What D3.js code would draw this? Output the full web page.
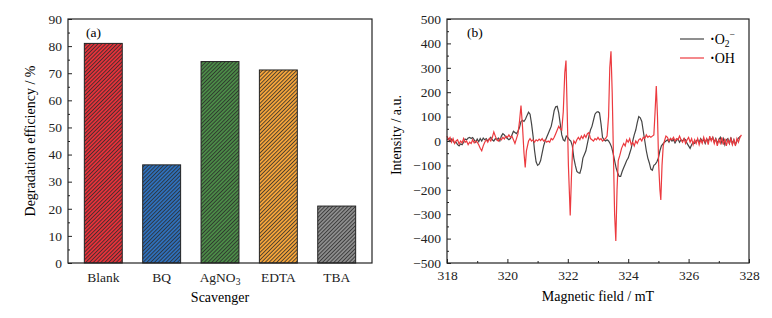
<!DOCTYPE html>
<html>
<head>
<meta charset="utf-8">
<script src="https://cdn.jsdelivr.net/npm/d3@7"></script>
<style>
  body { margin: 0; background: #fff; }
  svg { font-family: "Liberation Serif", "DejaVu Serif", serif; }
  .tick text { font-family: "Liberation Serif", "DejaVu Serif", serif; font-size: 13.5px; fill: #222; }
  .tick line { stroke: #222; stroke-width: 1; }
</style>
</head>
<body>
<div id="chart"></div>
<script>
// panel (a) - scavenger experiment
var scavengers = ["Blank", "BQ", "AgNO3", "EDTA", "TBA"];
var efficiency = [81.0, 36.2, 74.3, 71.2, 21.0];
var barColors = ["#e2323a", "#2f6fb9", "#4b8a47", "#f3a33a", "#8c8c8c"];
var effTicks = [0, 10, 20, 30, 40, 50, 60, 70, 80, 90];

// panel (b) - EPR spectra [field mT, intensity]
var fieldTicks = [318, 320, 322, 324, 326, 328];
var intensityTicks = [-500, -400, -300, -200, -100, 0, 100, 200, 300, 400, 500];

var superoxide = [
  [318.00, 5],[318.05, 10],[318.10, -2],[318.15, 8],[318.20, 0],[318.25, -8],[318.30, -5],[318.35, -15],
  [318.40, -20],[318.45, -12],[318.50, -15],[318.55, -5],[318.60, 8],[318.65, 5],[318.70, 12],[318.75, 15],
  [318.80, 10],[318.85, 14],[318.90, 5],[318.95, -5],[319.00, 8],[319.05, -3],[319.10, 10],[319.15, 0],
  [319.20, 12],[319.25, 5],[319.30, 10],[319.35, 0],[319.40, 8],[319.45, 15],[319.50, 5],[319.55, 0],
  [319.60, 10],[319.65, 5],[319.70, 12],[319.75, 0],[319.80, 20],[319.85, 30],[319.90, 25],[319.95, 15],
  [320.00, 10],[320.05, 5],[320.10, 10],[320.15, 25],[320.20, 40],[320.25, 35],[320.30, 30],[320.35, 40],
  [320.40, 55],[320.45, 80],[320.50, 85],[320.55, 80],[320.60, 90],[320.65, 105],[320.70, 118],[320.75, 110],
  [320.80, 70],[320.85, 20],[320.90, -40],[320.95, -85],[321.00, -100],[321.05, -95],[321.10, -80],[321.15, -50],
  [321.20, -20],[321.25, 0],[321.30, 15],[321.35, 30],[321.40, 45],[321.45, 60],[321.50, 90],[321.55, 125],
  [321.60, 140],[321.65, 142],[321.70, 115],[321.75, 70],[321.80, 25],[321.85, 5],[321.90, 0],[321.95, 20],
  [322.00, 15],[322.05, 5],[322.10, 0],[322.15, -20],[322.20, -70],[322.25, -100],[322.30, -125],[322.35, -130],
  [322.40, -132],[322.45, -110],[322.50, -70],[322.55, -55],[322.60, -40],[322.65, -10],[322.70, 20],[322.75, 45],
  [322.80, 60],[322.85, 85],[322.90, 110],[322.95, 118],[323.00, 120],[323.05, 115],[323.10, 70],[323.15, 15],
  [323.20, 5],[323.25, 0],[323.30, 5],[323.35, 0],[323.40, -10],[323.45, -25],[323.50, -50],[323.55, -80],
  [323.60, -110],[323.65, -130],[323.70, -145],[323.75, -145],[323.80, -125],[323.85, -110],[323.90, -95],[323.95, -80],
  [324.00, -70],[324.05, -50],[324.10, -30],[324.15, 0],[324.20, 25],[324.25, 45],[324.30, 75],[324.35, 100],
  [324.40, 95],[324.45, 80],[324.50, 40],[324.55, 0],[324.60, -40],[324.65, -70],[324.70, -90],[324.75, -115],
  [324.80, -120],[324.85, -100],[324.90, -95],[324.95, -85],[325.00, -70],[325.05, -40],[325.10, -20],[325.15, -12],
  [325.20, -5],[325.25, 0],[325.30, 5],[325.35, -5],[325.40, 10],[325.45, 0],[325.50, 5],[325.55, -8],
  [325.60, 3],[325.65, 8],[325.70, -5],[325.75, 5],[325.80, 0],[325.85, 10],[325.90, 5],[325.95, -10],
  [326.00, -20],[326.05, -30],[326.10, -15],[326.15, -5],[326.20, -10],[326.25, 0],[326.30, 5],[326.35, -5],
  [326.40, 10],[326.45, 0],[326.50, 5],[326.55, -10],[326.60, 8],[326.65, 0],[326.70, 12],[326.75, 5],
  [326.80, 15],[326.85, -5],[326.90, 10],[326.95, -10],[327.00, 5],[327.05, 15],[327.10, -8],[327.15, 10],
  [327.20, -15],[327.25, 5],[327.30, 10],[327.35, -10],[327.40, 15],[327.45, -12],[327.50, 5],[327.55, -15],
  [327.60, 0],[327.65, 12],[327.72, 20]
];

var hydroxyl = [
  [318.00, 20],[318.05, 5],[318.10, 15],[318.15, -5],[318.20, 10],[318.25, -10],[318.30, 0],[318.35, 5],
  [318.40, -12],[318.45, 0],[318.50, -8],[318.55, 10],[318.60, -5],[318.65, 0],[318.70, -15],[318.75, -5],
  [318.80, -10],[318.85, 5],[318.90, -8],[318.95, 0],[319.00, -5],[319.05, -15],[319.10, -30],[319.15, -40],
  [319.20, -20],[319.25, -5],[319.30, 5],[319.35, -5],[319.40, 10],[319.45, 0],[319.50, 15],[319.55, 37],
  [319.60, 20],[319.65, 5],[319.70, 0],[319.75, 10],[319.80, 5],[319.85, 15],[319.90, 8],[319.95, 20],
  [320.00, 15],[320.05, 25],[320.10, 15],[320.15, 20],[320.20, 5],[320.25, -10],[320.30, 10],[320.35, 30],
  [320.40, 80],[320.45, 145],[320.50, 60],[320.55, -50],[320.59, -108],[320.63, -40],[320.70, 0],[320.75, 10],
  [320.80, 0],[320.85, 5],[320.90, -5],[320.95, 5],[321.00, 0],[321.05, 8],[321.10, 2],[321.15, 10],
  [321.20, 0],[321.25, 5],[321.30, -5],[321.35, 0],[321.40, -5],[321.45, 10],[321.50, 5],[321.55, 15],
  [321.60, 30],[321.65, 45],[321.70, 60],[321.75, 50],[321.80, 45],[321.85, 120],[321.90, 280],[321.94, 330],
  [321.98, 120],[322.02, -100],[322.08, -305],[322.12, -150],[322.16, -30],[322.20, 0],[322.25, -10],[322.30, 5],
  [322.35, 15],[322.40, 5],[322.45, 20],[322.50, 10],[322.55, 25],[322.60, 15],[322.65, 30],[322.70, 35],
  [322.75, 10],[322.80, 5],[322.85, 0],[322.90, 10],[322.95, 5],[323.00, 15],[323.05, 5],[323.10, 10],
  [323.15, 0],[323.20, 5],[323.25, 10],[323.30, 20],[323.35, 100],[323.39, 300],[323.43, 368],[323.47, 200],
  [323.51, -50],[323.55, -300],[323.59, -410],[323.63, -200],[323.67, -80],[323.72, -60],[323.78, -30],[323.85, -10],
  [323.90, -20],[323.95, 5],[324.00, -5],[324.05, 10],[324.10, -15],[324.15, -5],[324.20, -20],[324.25, 0],
  [324.30, -10],[324.35, 5],[324.40, 10],[324.45, 0],[324.50, 15],[324.55, 10],[324.60, 25],[324.65, 15],
  [324.70, 20],[324.75, 15],[324.80, 20],[324.85, 25],[324.89, 120],[324.93, 225],[324.97, 100],[325.01, -100],
  [325.05, -200],[325.08, -242],[325.12, -100],[325.16, -20],[325.20, 0],[325.25, 20],[325.30, 15],[325.35, 0],
  [325.40, 10],[325.45, 5],[325.50, 15],[325.55, 0],[325.60, 10],[325.65, 5],[325.70, 20],[325.75, 5],
  [325.80, -5],[325.85, 10],[325.90, -10],[325.95, 5],[326.00, 15],[326.05, -5],[326.10, 10],[326.15, -15],
  [326.20, 5],[326.25, -10],[326.30, 10],[326.35, -15],[326.40, 5],[326.45, -10],[326.50, 15],[326.55, -5],
  [326.60, 10],[326.65, -15],[326.70, 20],[326.75, 0],[326.80, 15],[326.85, -10],[326.90, 10],[326.95, -20],
  [327.00, 5],[327.05, -10],[327.10, 15],[327.15, -15],[327.20, 10],[327.25, -20],[327.30, 5],[327.35, -10],
  [327.40, 10],[327.45, -15],[327.50, 5],[327.55, -20],[327.60, 10],[327.65, -5],[327.70, 15],[327.75, 25]
];

var W = 772, H = 318;
var svg = d3.select("#chart").append("svg")
    .attr("width", W)
    .attr("height", H);

var defs = svg.append("defs");
barColors.forEach(function(c, i){
    var p = defs.append("pattern")
        .attr("id", "hatch" + i)
        .attr("patternUnits", "userSpaceOnUse")
        .attr("width", 2.7)
        .attr("height", 2.7)
        .attr("patternTransform", "rotate(45)");
    p.append("rect").attr("width", 2.7).attr("height", 2.7).attr("fill", c);
    p.append("line")
        .attr("x1", 0).attr("y1", 0).attr("x2", 0).attr("y2", 2.7)
        .attr("stroke", "#2a2a2a").attr("stroke-width", 1.5);
});

// ---------- panel (a) ----------
var a = {left: 68, right: 372, top: 19, bottom: 263};

var xa = d3.scaleBand()
    .domain(scavengers)
    .range([a.left, a.right])
    .paddingInner(0.35)
    .paddingOuter(0.28);

var ya = d3.scaleLinear()
    .domain([0, 90])
    .range([a.bottom, a.top]);

svg.selectAll(".bar")
    .data(scavengers)
    .enter()
    .append("rect")
    .attr("class", "bar")
    .attr("x", function(d){ return xa(d); })
    .attr("width", xa.bandwidth())
    .attr("y", function(d, i){ return ya(efficiency[i]); })
    .attr("height", function(d, i){ return ya(0) - ya(efficiency[i]); })
    .attr("fill", function(d, i){ return "url(#hatch" + i + ")"; })
    .attr("stroke", "#222")
    .attr("stroke-width", 1);

svg.append("g")
    .attr("transform", "translate(" + a.left + ",0)")
    .call(d3.axisLeft(ya).tickValues(d3.range(5, 90, 10)).tickSize(-2).tickFormat(""))
    .call(function(g){ g.select(".domain").remove(); });
svg.append("g")
    .attr("transform", "translate(" + a.left + ",0)")
    .call(d3.axisLeft(ya).tickValues(effTicks).tickSize(-4).tickPadding(6))
    .call(function(g){ g.select(".domain").remove(); });

var xaxA = svg.append("g")
    .attr("transform", "translate(0," + a.bottom + ")")
    .call(d3.axisBottom(xa).tickSize(0).tickPadding(9));
xaxA.select(".domain").remove();
xaxA.selectAll(".tick text").filter(function(d){ return d == "AgNO3"; })
    .text(null)
    .call(function(t){
        t.append("tspan").text("AgNO");
        t.append("tspan").attr("dy", 3).style("font-size", "9.5px").text("3");
    });

svg.append("rect")
    .attr("x", a.left).attr("y", a.top)
    .attr("width", a.right - a.left).attr("height", a.bottom - a.top)
    .attr("fill", "none").attr("stroke", "#222").attr("stroke-width", 1.2);

svg.append("text")
    .attr("x", 86).attr("y", 37)
    .style("font-size", "13.5px")
    .text("(a)");

svg.append("text")
    .attr("x", (a.left + a.right) / 2).attr("y", 302)
    .attr("text-anchor", "middle")
    .style("font-size", "14px")
    .text("Scavenger");

svg.append("text")
    .attr("transform", "translate(35," + (a.top + a.bottom) / 2 + ") rotate(-90)")
    .attr("text-anchor", "middle")
    .style("font-size", "14px")
    .text("Degradation efficiency / %");

// ---------- panel (b) ----------
var b = {left: 447, right: 749, top: 19, bottom: 263};

var xb = d3.scaleLinear().domain([318, 328]).range([b.left, b.right]);
var yb = d3.scaleLinear().domain([-500, 500]).range([b.bottom, b.top]);

svg.append("g")
    .attr("transform", "translate(" + b.left + ",0)")
    .call(d3.axisLeft(yb).tickValues(d3.range(-450, 500, 100)).tickSize(-2).tickFormat(""))
    .call(function(g){ g.select(".domain").remove(); });
svg.append("g")
    .attr("transform", "translate(" + b.left + ",0)")
    .call(d3.axisLeft(yb).tickValues(intensityTicks).tickSize(-4).tickPadding(6)
        .tickFormat(function(d){ return d < 0 ? "\u2212" + Math.abs(d) : d; }))
    .call(function(g){ g.select(".domain").remove(); });

svg.append("g")
    .attr("transform", "translate(0," + b.bottom + ")")
    .call(d3.axisBottom(xb).tickValues(d3.range(319, 328, 2)).tickSize(-2).tickFormat(""))
    .call(function(g){ g.select(".domain").remove(); });
svg.append("g")
    .attr("transform", "translate(0," + b.bottom + ")")
    .call(d3.axisBottom(xb).tickValues(fieldTicks).tickSize(-4).tickPadding(7))
    .call(function(g){ g.select(".domain").remove(); });

var line = d3.line()
    .x(function(d){ return xb(d[0]); })
    .y(function(d){ return yb(d[1]); });

svg.append("path")
    .datum(superoxide)
    .attr("d", line)
    .attr("fill", "none")
    .attr("stroke", "#444")
    .attr("stroke-width", 1.2);

svg.append("path")
    .datum(hydroxyl)
    .attr("d", line)
    .attr("fill", "none")
    .attr("stroke", "#ec3a3f")
    .attr("stroke-width", 1.2);

svg.append("rect")
    .attr("x", b.left).attr("y", b.top)
    .attr("width", b.right - b.left).attr("height", b.bottom - b.top)
    .attr("fill", "none").attr("stroke", "#222").attr("stroke-width", 1.2);

svg.append("text")
    .attr("x", 467).attr("y", 37)
    .style("font-size", "13.5px")
    .text("(b)");

// legend
var legend = svg.append("g");
legend.append("line").attr("x1", 680).attr("x2", 704).attr("y1", 39).attr("y2", 39)
    .attr("stroke", "#444").attr("stroke-width", 1.2);
legend.append("line").attr("x1", 680).attr("x2", 704).attr("y1", 58).attr("y2", 58)
    .attr("stroke", "#ec3a3f").attr("stroke-width", 1.2);
var t1 = legend.append("text").attr("x", 710).attr("y", 44).style("font-size", "14px");
t1.append("tspan").style("font-weight", "bold").text("\u00B7");
t1.append("tspan").text("O");
t1.append("tspan").attr("dy", 3).style("font-size", "9.5px").text("2");
t1.append("tspan").attr("dy", -9).style("font-size", "9.5px").text("\u2212");
var t2 = legend.append("text").attr("x", 710).attr("y", 63).style("font-size", "14px");
t2.append("tspan").style("font-weight", "bold").text("\u00B7");
t2.append("tspan").text("OH");

svg.append("text")
    .attr("x", (b.left + b.right) / 2).attr("y", 301)
    .attr("text-anchor", "middle")
    .style("font-size", "14px")
    .text("Magnetic field / mT");

svg.append("text")
    .attr("transform", "translate(401,135) rotate(-90)")
    .attr("text-anchor", "middle")
    .style("font-size", "14px")
    .text("Intensity / a.u.");
</script>
</body>
</html>
